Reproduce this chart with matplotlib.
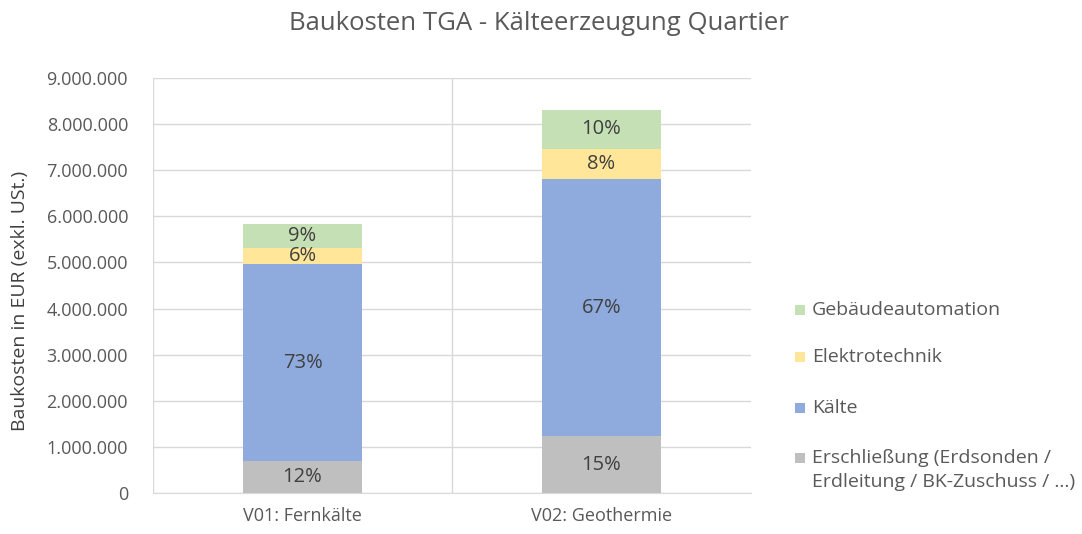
import numpy as np
import matplotlib.pyplot as plt
from matplotlib.patches import Rectangle
from matplotlib.ticker import FuncFormatter, MultipleLocator

plt.rcParams['font.family'] = ['Open Sans', 'DejaVu Sans']

varianten = ['V01: Fernkälte', 'V02: Geothermie']
erschliessung = [690000, 1230000]
kaelte = [4280000, 5570000]
elektro = [340000, 670000]
gebaeudeautomation = [520000, 830000]

serien = [
    ('Erschließung (Erdsonden /\nErdleitung / BK-Zuschuss / ...)', erschliessung, '#bfbfbf'),
    ('Kälte', kaelte, '#8faadc'),
    ('Elektrotechnik', elektro, '#ffe699'),
    ('Gebäudeautomation', gebaeudeautomation, '#c5e0b4'),
]

W, H = 1082, 534
fig = plt.figure(figsize=(W / 100, H / 100), dpi=100)
ax = fig.add_axes([153 / W, 1 - 493 / H, (751 - 153) / W, (493 - 78) / H])

x = np.arange(len(varianten))
summe = np.sum([s[1] for s in serien], axis=0)
unten = np.zeros(len(varianten))
for name, werte, farbe in serien:
    werte = np.array(werte, dtype=float)
    ax.bar(x, werte, 0.40, bottom=unten, color=farbe, zorder=2)
    for xi, u, w, s in zip(x, unten, werte, summe):
        ax.text(xi, u + w / 2, f'{w / s * 100:.0f}%', ha='center', va='center',
                fontsize=14.5, color='#404040', zorder=3)
    unten += werte

ax.set_xlim(-0.5, 1.5)
ax.set_ylim(0, 9000000)
ax.yaxis.set_major_locator(MultipleLocator(1000000))
ax.yaxis.set_major_formatter(FuncFormatter(lambda v, p: f'{int(v):,}'.replace(',', '.')))
ax.set_xticks(x)
ax.set_xticklabels(varianten)
ax.grid(axis='y', color='#d9d9d9', linewidth=1, zorder=0)
ax.axvline(0.5, color='#d9d9d9', linewidth=1, zorder=0)
ax.axvline(-0.5, color='#d9d9d9', linewidth=1, zorder=0)
for s in ['top', 'right', 'left']:
    ax.spines[s].set_visible(False)
ax.spines['bottom'].set_color('#d9d9d9')
ax.tick_params(length=0, colors='#595959', labelsize=13)
ax.tick_params(axis='y', pad=18)
ax.tick_params(axis='x', pad=10)

fig.text(20 / W, 1 - 301 / H, 'Baukosten in EUR (exkl. USt.)', rotation=90,
         ha='center', va='center', fontsize=14, color='#404040')

fig.text(539 / W, 1 - 23 / H, 'Baukosten TGA - Kälteerzeugung Quartier',
         ha='center', va='center', fontsize=18.5, color='#595959')

# Legende von Hand, oberster Eintrag zuerst
legende_y = [310, 357, 408, 458]
for (name, werte, farbe), ly in zip(serien[::-1], legende_y):
    fig.patches.append(Rectangle((795 / W, 1 - (ly + 5) / H), 10 / W, 10 / H,
                                 facecolor=farbe, edgecolor='none', transform=fig.transFigure))
    for i, zeile in enumerate(name.split('\n')):
        fig.text(812 / W, 1 - (ly + 24 * i) / H, zeile, ha='left', va='center',
                 fontsize=14, color='#595959')

fig.savefig('out.png', dpi=100)
